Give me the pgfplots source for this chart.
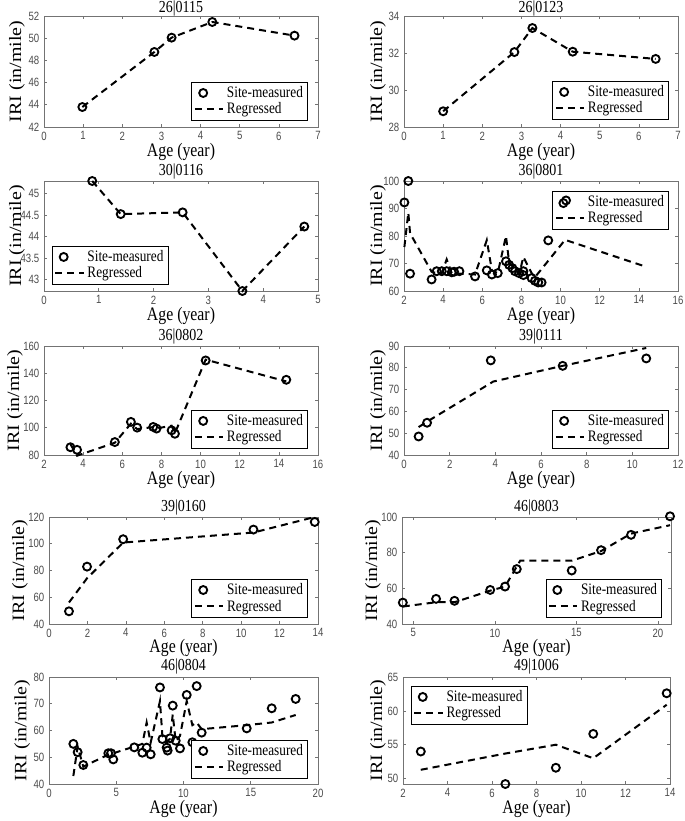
\documentclass[border=0pt]{standalone}
\usepackage{pgfplots}
\pgfplotsset{compat=1.18}
\usepackage{fontspec}
\setmainfont{Liberation Serif}
\newfontfamily\narrowserif{Liberation Serif}[FakeStretch=0.83]
\newfontfamily\wideserif{Liberation Serif}[FakeStretch=1.15]
\newfontfamily\tickfont{Liberation Sans}[FakeStretch=0.8]

\pgfplotsset{
  every axis title shift=0pt,
  iri/.style={
    scale only axis, anchor=north west, clip=false,
    axis line style={black!55, line width=0.6pt},
    tick align=inside, tick pos=both, major tick length=2.6pt,
    tick style={black!55, line width=0.5pt},
    tick label style={font=\tickfont\fontsize{9}{10}\selectfont, text=black!70},
    /pgf/number format/assume math mode=true,
    xlabel={Age (year)}, ylabel={IRI (in/mile)},
    xlabel style={font=\narrowserif\fontsize{14.3}{15}\selectfont, anchor=center},
    ylabel style={font=\wideserif\fontsize{13}{14}\selectfont, anchor=center},
    title style={font=\narrowserif\fontsize{12.6}{13}\selectfont, anchor=center},
    legend style={font=\narrowserif\fontsize{12}{12}\selectfont, draw=black,
      line width=0.6pt, inner xsep=1.5pt, inner ysep=1pt, row sep=-1.5pt},
    legend cell align=left,
  },
  site/.style={only marks, mark=o, mark size=3pt, line width=1.4pt, black,
    legend image code/.code={\draw[mark repeat=2,mark phase=2,##1] plot coordinates {(0cm,0cm) (0.22cm,0cm) (0.75cm,0cm)};}},
  sitedouble/.style={only marks, mark=o, mark size=3pt, line width=1.4pt, black,
    legend image code/.code={%
      \draw[mark repeat=2,mark phase=2,##1] plot coordinates {(0cm,-0.03cm) (0.2cm,-0.03cm) (0.75cm,-0.03cm)};
      \draw[mark repeat=2,mark phase=2,##1] plot coordinates {(0cm,0.04cm) (0.27cm,0.04cm) (0.75cm,0.04cm)};}},
  regr/.style={no marks, black, line width=1.5pt, dash pattern=on 5.25pt off 3.75pt,
    legend image code/.code={\draw[##1] (0cm,0cm) -- (0.75cm,0cm);}},
}

\begin{document}
\begin{tikzpicture}

% row 1
\begin{axis}[iri, at={(33pt,-12pt)}, width=205.5pt, height=83.25pt,
  title={26|0115}, xmin=0, xmax=7, ymin=42, ymax=52,
  xtick={0,1,...,7}, ytick={42,44,...,52},
  title style={at={(axis description cs:0.5,1.07)}},
  xlabel style={at={(axis description cs:0.5,-0.225)}},
  ylabel style={at={(axis description cs:-0.0985,0.5)}},
  legend style={at={(0.9635,0.405)}, anchor=north east}]
\addplot[site] coordinates {(0.98,43.8) (2.82,48.76) (3.26,50.05) (4.3,51.46) (6.4,50.23)};
\addlegendentry{Site-measured}
\addplot[regr] coordinates {(0.98,43.8) (2.82,48.76) (3.26,50.05) (4.3,51.46) (6.4,50.23)};
\addlegendentry{Regressed}
\end{axis}

\begin{axis}[iri, at={(303pt,-12pt)}, width=205.5pt, height=83.25pt,
  title={26|0123}, xmin=0, xmax=7, ymin=28, ymax=34,
  xtick={0,1,...,7}, ytick={28,30,32,34},
  title style={at={(axis description cs:0.5,1.07)}},
  xlabel style={at={(axis description cs:0.5,-0.225)}},
  ylabel style={at={(axis description cs:-0.095,0.5)}},
  legend style={at={(0.967,0.414)}, anchor=north east}]
\addplot[site] coordinates {(1.0,28.85) (2.82,32.05) (3.28,33.35) (4.31,32.07) (6.43,31.68)};
\addlegendentry{Site-measured}
\addplot[regr] coordinates {(1.0,28.85) (2.82,32.05) (3.28,33.35) (4.31,32.07) (6.43,31.68)};
\addlegendentry{Regressed}
\end{axis}

% row 2
\begin{axis}[iri, at={(33pt,-135.75pt)}, width=205.5pt, height=82.5pt,
  title={30|0116}, xmin=0, xmax=5, ymin=42.73, ymax=45.29,
  xtick={0,1,...,5}, ytick={43,43.5,44,44.5,45},
  title style={at={(axis description cs:0.5,1.085)}},
  xlabel style={at={(axis description cs:0.5,-0.227)}},
  ylabel style={at={(axis description cs:-0.0985,0.5)}},
  legend style={at={(0.029,0.409)}, anchor=north west}]
\addplot[site] coordinates {(0.88,45.29) (1.4,44.52) (2.53,44.56) (3.62,42.73) (4.75,44.23)};
\addlegendentry{Site-measured}
\addplot[regr] coordinates {(0.88,45.29) (1.4,44.52) (2.53,44.56) (3.62,42.73) (4.75,44.23)};
\addlegendentry{Regressed}
\end{axis}

\begin{axis}[iri, at={(303pt,-135.75pt)}, width=205.5pt, height=82.5pt,
  title={36|0801}, xmin=2, xmax=16, ymin=60, ymax=100,
  xtick={2,4,...,16}, ytick={60,70,...,100},
  title style={at={(axis description cs:0.5,1.085)}},
  xlabel style={at={(axis description cs:0.5,-0.227)}},
  ylabel style={at={(axis description cs:-0.095,0.5)}},
  legend style={at={(0.967,0.909)}, anchor=north east}]
\addplot[sitedouble] coordinates {(2.02,92.2) (2.22,100) (2.31,66.3) (3.41,64.2) (3.67,67.2)
  (3.93,67.2) (4.18,67.2) (4.44,66.8) (4.56,67.0) (4.83,67.2) (5.63,65.3) (6.23,67.5)
  (6.49,66.0) (6.79,66.5) (7.21,70.8) (7.37,69.5) (7.54,68.3) (7.67,67.2) (7.88,66.5)
  (8.1,67.2) (8.1,65.8) (8.52,64.7) (8.69,63.7) (8.86,63.1) (9.03,63.1) (9.37,78.4) (14.37,84.3)};
\addlegendentry{Site-measured}
\addplot[regr] coordinates {(2.02,76) (2.22,88.5) (2.31,81) (3.41,67) (3.67,66.5)
  (3.93,66.5) (4.18,71.5) (4.44,66.5) (4.56,66.5) (4.83,66.3) (5.63,66) (6.23,78.5)
  (6.49,67.5) (6.79,66.5) (7.21,80) (7.37,70.5) (7.54,69) (7.67,68) (7.88,66)
  (8.1,72.4) (8.52,66.5) (8.69,65) (8.86,66.5) (9.03,68) (9.37,71) (10.23,78.6) (14.37,68.8)};
\addlegendentry{Regressed}
\end{axis}

% row 3
\begin{axis}[iri, at={(33pt,-259.5pt)}, width=205.5pt, height=81.75pt,
  title={36|0802}, xmin=2, xmax=16, ymin=80, ymax=160,
  xtick={2,4,...,16}, ytick={80,100,...,160},
  title style={at={(axis description cs:0.5,1.087)}},
  xlabel style={at={(axis description cs:0.5,-0.229)}},
  ylabel style={at={(axis description cs:-0.106,0.5)}},
  legend style={at={(0.9635,0.413)}, anchor=north east}]
\addplot[site] coordinates {(3.35,85.7) (3.69,83.8) (5.62,89.5) (6.44,104.3) (6.76,100.1)
  (7.58,100.6) (7.75,99.4) (8.52,98.1) (8.69,95.6) (10.26,149.4) (14.38,135.2)};
\addlegendentry{Site-measured}
\addplot[regr] coordinates {(3.35,88) (3.69,79.5) (5.62,89) (6.44,103) (6.76,99)
  (7.58,100.5) (7.75,99.5) (8.52,101.5) (8.69,96) (10.26,150) (14.38,134)};
\addlegendentry{Regressed}
\end{axis}

\begin{axis}[iri, at={(303pt,-259.5pt)}, width=205.5pt, height=81.75pt,
  title={39|0111}, xmin=0, xmax=12, ymin=40, ymax=90,
  xtick={0,2,...,12}, ytick={40,50,...,90},
  title style={at={(axis description cs:0.5,1.087)}},
  xlabel style={at={(axis description cs:0.5,-0.229)}},
  ylabel style={at={(axis description cs:-0.095,0.5)}},
  legend style={at={(0.967,0.413)}, anchor=north east}]
\addplot[site] coordinates {(0.64,48.5) (1.01,54.8) (3.8,83.4) (6.95,80.9) (10.61,84.3)};
\addlegendentry{Site-measured}
\addplot[regr] coordinates {(0.64,52.8) (1.01,55.3) (3.91,73.7) (6.95,80.9) (10.61,89.1)};
\addlegendentry{Regressed}
\end{axis}

% row 4
\begin{axis}[iri, at={(36.75pt,-387.75pt)}, width=201.75pt, height=80.25pt,
  title={39|0160}, xmin=0, xmax=14, ymin=40, ymax=120,
  xtick={0,2,...,14}, ytick={40,60,...,120},
  title style={at={(axis description cs:0.5,1.09)}},
  xlabel style={at={(axis description cs:0.5,-0.224)}},
  ylabel style={at={(axis description cs:-0.108,0.5)}},
  legend style={at={(0.963,0.42)}, anchor=north east}]
\addplot[site] coordinates {(1.04,49.5) (1.98,82.9) (3.86,103.4) (10.64,110.6) (13.83,116.3)};
\addlegendentry{Site-measured}
\addplot[regr] coordinates {(1.04,56.1) (1.98,74.2) (3.86,100.9) (10.64,108.4) (13.83,120)};
\addlegendentry{Regressed}
\end{axis}

\begin{axis}[iri, at={(301.5pt,-387.75pt)}, width=201.75pt, height=80.25pt,
  title={46|0803}, xmin=4.3, xmax=20.8, ymin=40, ymax=100,
  xtick={5,10,15,20}, ytick={40,60,80,100},
  title style={at={(axis description cs:0.5,1.09)}},
  xlabel style={at={(axis description cs:0.5,-0.224)}},
  ylabel style={at={(axis description cs:-0.108,0.5)}},
  legend style={at={(0.967,0.42)}, anchor=north east}]
\addplot[site] coordinates {(4.35,52.0) (6.39,54.1) (7.52,53.0) (9.71,59.1) (10.62,61.0)
  (11.34,70.8) (14.71,70.0) (16.51,81.4) (18.35,90.0) (20.74,100.4)};
\addlegendentry{Site-measured}
\addplot[regr] coordinates {(4.35,49.8) (6.39,52.2) (7.52,52.2) (9.71,58.7) (10.62,61)
  (11.55,75.5) (14.71,75.5) (16.51,80.9) (18.35,90.7) (20.74,95.4)};
\addlegendentry{Regressed}
\end{axis}

% row 5
\begin{axis}[iri, at={(36.75pt,-507.75pt)}, width=201.75pt, height=80.25pt,
  title={46|0804}, xmin=0, xmax=20, ymin=40, ymax=80,
  xtick={0,5,...,20}, ytick={40,50,...,80},
  title style={at={(axis description cs:0.5,1.095)}},
  xlabel style={at={(axis description cs:0.5,-0.236)}},
  ylabel style={at={(axis description cs:-0.1,0.5)}},
  legend style={at={(0.963,0.411)}, anchor=north east}]
\addplot[site] coordinates {(1.81,55.0) (2.13,51.9) (2.55,47.1) (4.41,51.5) (4.61,51.5)
  (4.78,49.2) (6.34,53.7) (6.94,51.7) (7.26,53.6) (7.56,51.1) (8.25,76.1) (8.43,56.8)
  (8.75,53.6) (8.82,52.5) (9.0,57.1) (9.2,69.3) (9.42,56.2) (9.74,53.3) (10.24,73.3)
  (10.66,55.6) (10.98,76.6) (11.35,59.2) (14.7,60.8) (16.56,68.3) (18.34,71.8)};
\addlegendentry{Site-measured}
\addplot[regr] coordinates {(1.81,43) (2.13,54) (2.55,46.5) (4.41,51) (4.61,51.3)
  (4.78,51.5) (6.34,54) (6.94,55) (7.26,63) (7.56,55.5) (8.25,71) (8.43,58)
  (8.75,55.5) (8.82,56) (9.0,57) (9.2,66) (9.42,56) (9.74,58) (10.24,71)
  (10.66,62) (10.98,63) (11.35,60.5) (14.7,62) (16.56,63) (18.34,65.8)};
\addlegendentry{Regressed}
\end{axis}

\begin{axis}[iri, at={(302.25pt,-507.75pt)}, width=200.25pt, height=80.25pt,
  title={49|1006}, xmin=2, xmax=14, ymin=49.2, ymax=65,
  xtick={2,4,...,14}, ytick={50,55,60,65},
  title style={at={(axis description cs:0.5,1.095)}},
  xlabel style={at={(axis description cs:0.5,-0.236)}},
  ylabel style={at={(axis description cs:-0.094,0.5)}},
  legend style={at={(0.03,0.916)}, anchor=north west}]
\addplot[site] coordinates {(2.8,54.0) (6.6,49.2) (8.87,51.6) (10.55,56.6) (13.85,62.6)};
\addlegendentry{Site-measured}
\addplot[regr] coordinates {(2.8,51.3) (6.6,53.7) (8.87,55.0) (10.55,53.0) (13.85,60.9)};
\addlegendentry{Regressed}
\end{axis}

\pgfresetboundingbox
\path (0,0) rectangle (513.75pt,-615.75pt);
\end{tikzpicture}
\end{document}
